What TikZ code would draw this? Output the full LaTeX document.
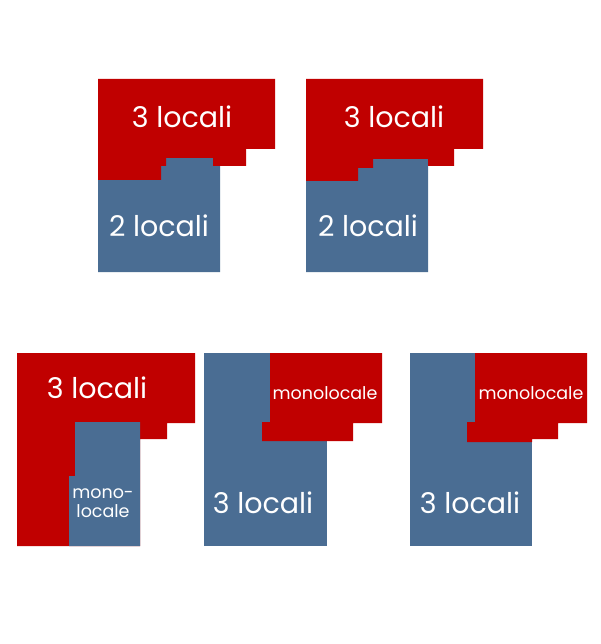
\documentclass[tikz,border=0pt]{standalone}
\usepackage{fontspec}
\setmainfont{Poppins}
\definecolor{roomred}{HTML}{C00000}
\definecolor{roomblue}{HTML}{4A6D93}

\begin{document}
\begin{tikzpicture}[x=1pt,y=-1pt,
    red/.style={fill=roomred},
    blue/.style={fill=roomblue},
    big/.style={text=white,font=\fontsize{28.5}{28}\selectfont},
    small/.style={text=white,font=\fontsize{17.5}{19}\selectfont,align=center}]
        \useasboundingbox (0,0) rectangle (600,644);
        % first row
        \fill[blue] (98,180)--(161,180)--(161,166)--(166,166)--(166,158)--(220,158)--(220,272)--(98,272)--cycle;
        \fill[red] (98,79)--(275,79)--(275,149)--(246,149)--(246,166)--(213,166)--(213,158)--(166,158)--(166,166)--(161,166)--(161,180)--(98,180)--cycle;
        \node[big] (tre1) at (182,117) {3 locali};
        \node[big] (due1) at (159,226) {2 locali};
        \fill[blue] (306,181)--(358,181)--(358,168)--(373,168)--(373,159)--(428,159)--(428,272)--(306,272)--cycle;
        \fill[red] (306,79)--(483,79)--(483,149)--(454,149)--(454,166)--(428,166)--(428,159)--(373,159)--(373,168)--(358,168)--(358,181)--(306,181)--cycle;
        \node[big] (tre2) at (394,117) {3 locali};
        \node[big] (due2) at (368,226) {2 locali};
        % second row
        \fill[red] (17,353)--(195,353)--(195,423)--(167,423)--(167,439)--(140,439)--(140,546)--(17,546)--cycle;
        \fill[blue] (75,422)--(140,422)--(140,546)--(69,546)--(69,476)--(75,476)--cycle;
        \node[big] (tre3) at (97,388) {3 locali};
        \node[small] (mono3) at (103,503) {mono-\\locale};
        \fill[blue] (204,353) rectangle (327,546);
        \fill[red] (270,353)--(382,353)--(382,423)--(353,423)--(353,441)--(262,441)--(262,422)--(270,422)--cycle;
        \node[small] (mono4) at (325,393) {monolocale};
        \node[big] (tre4) at (263,503) {3 locali};
        \fill[blue] (410,353) rectangle (532,546);
        \fill[red] (475,353)--(587,353)--(587,423)--(558,423)--(558,439)--(532,439)--(532,442)--(467,442)--(467,422)--(475,422)--cycle;
        \node[small] (mono5) at (531,393) {monolocale};
        \node[big] (tre5) at (470,503) {3 locali};
\end{tikzpicture}
\end{document}
